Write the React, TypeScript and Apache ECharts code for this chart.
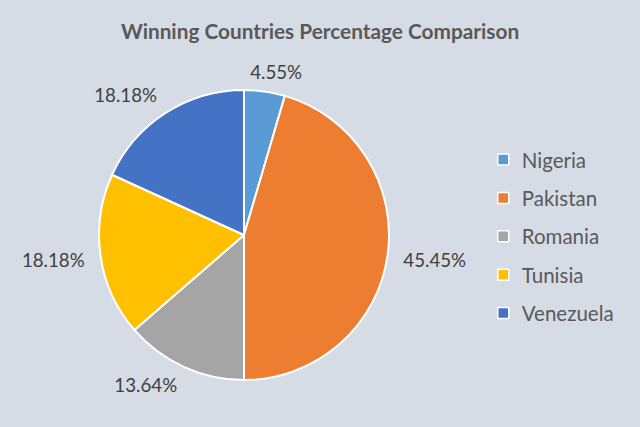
import React, { useEffect, useRef } from "react";
import * as echarts from "echarts";

const categories = ["Nigeria", "Pakistan", "Romania", "Tunisia", "Venezuela"];
const values = [1, 10, 3, 4, 4];
const colors = ["#5B9BD5", "#ED7D31", "#A5A5A5", "#FFC000", "#4472C4"];
const titleText = "Winning Countries Percentage Comparison";

const CX = 244;
const CY = 235;
const R = 145;

export default function App() {
  const ref = useRef<HTMLDivElement>(null);
  useEffect(() => {
    if (!ref.current) return;
    const chart = echarts.init(ref.current, null, { renderer: "svg" });
    const total = values.reduce((a, b) => a + b, 0);
    const midAngles: number[] = [];
    let acc = 0;
    values.forEach((v) => {
      const span = (v / total) * 360;
      midAngles.push(acc + span / 2);
      acc += span;
    });
    const clamp = (v: number) => Math.max(-1, Math.min(1, v));
    chart.setOption({
      animation: false,
      backgroundColor: "#D6DCE5",
      title: {
        text: titleText,
        left: "center",
        top: 15,
        textStyle: { fontFamily: "Lato", fontWeight: "bold", fontSize: 20.8, color: "#595959" },
      },
      legend: {
        orient: "vertical",
        left: 497,
        top: 149,
        padding: 0,
        icon: "rect",
        itemWidth: 11,
        itemHeight: 11,
        itemGap: 17.4,
        itemStyle: { borderColor: "#FFFFFF", borderWidth: 1.5 },
        textStyle: {
          fontFamily: "Lato",
          fontSize: 20.5,
          lineHeight: 20,
          color: "#595959",
          padding: [0, 0, 0, 8],
        },
        data: categories,
      },
      series: [
        {
          type: "pie",
          center: [CX, CY],
          radius: R,
          startAngle: 90,
          clockwise: true,
          percentPrecision: 2,
          itemStyle: { borderColor: "#FFFFFF", borderWidth: 2 },
          label: {
            show: true,
            position: "outside",
            formatter: "{d}%",
            fontFamily: "Lato",
            fontSize: 18.7,
            color: "#404040",
            overflow: "none",
          },
          labelLine: { show: false },
          labelLayout: (params: any) => {
            const a = (midAngles[params.dataIndex] * Math.PI) / 180;
            const dx = Math.sin(a);
            const dy = -Math.cos(a);
            const px = CX + dx * (R + 16);
            const py = CY + dy * (R + 10);
            const w = params.labelRect.width;
            const h = params.labelRect.height;
            return {
              x: px + (w / 2) * clamp(dx * 2.5),
              y: py + (h / 2) * clamp(dy * 2.5),
              align: "center",
              verticalAlign: "middle",
            };
          },
          data: categories.map((name, i) => ({ name, value: values[i], itemStyle: { color: colors[i] } })),
        },
      ],
    });
    return () => chart.dispose();
  }, []);
  return (
    <div
      ref={ref}
      style={{ position: "absolute", left: 0, top: 0, width: 640, height: 427 }}
    />
  );
}
